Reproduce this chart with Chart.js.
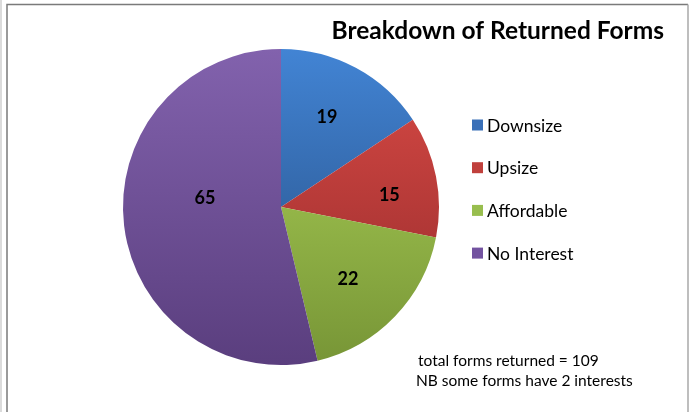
<!DOCTYPE html>
<html>
<head>
<meta charset="utf-8">
<script src="https://cdn.jsdelivr.net/npm/chart.js@4"></script>
<style>
  html, body { margin: 0; padding: 0; background: #fff; }
  #wrap { width: 695px; height: 412px; position: relative; }
</style>
</head>
<body>
<div id="wrap"><canvas id="pie" width="695" height="412"></canvas></div>
<script>
// data
const labels = ['Downsize', 'Upsize', 'Affordable', 'No Interest'];
const values = [19, 15, 22, 65];
const titleText = 'Breakdown of Returned Forms';
const notes = ['total forms returned = 109', 'NB some forms have 2 interests'];

// top / bottom colours of the office-style vertical gradient
const topColors = ['#4284d4', '#da4b46', '#b0d65a', '#8262ad'];
const bottomColors = ['#24497c', '#92292a', '#779536', '#5a3e7e'];
const legendColors = ['#3a70b8', '#c0403c', '#98be4e', '#7353a0'];

// where each value label sits: share of radius, and a small turn (degrees) off the slice middle
const labelDist = [0.64, 0.69, 0.623, 0.485];
const labelTurn = [-1.2, 4.9, 3.2, 13.4];

const FONT = 'Lato, "Open Sans", sans-serif';

function sliceFill(ctx) {
  const chart = ctx.chart;
  const area = chart.chartArea;
  if (!area) return topColors[ctx.dataIndex];
  const g = chart.ctx.createLinearGradient(0, area.top, 0, area.bottom);
  g.addColorStop(0, topColors[ctx.dataIndex]);
  g.addColorStop(1, bottomColors[ctx.dataIndex]);
  return g;
}

const framePlugin = {
  id: 'frame',
  beforeDraw(chart) {
    const c = chart.ctx;
    c.save();
    c.strokeStyle = '#cfcfcf';
    c.lineWidth = 1.5;
    c.beginPath();
    c.moveTo(1, 0); c.lineTo(1, 412);
    c.stroke();
    c.strokeStyle = '#7a7a7a';
    c.lineWidth = 1.5;
    c.beginPath();
    c.moveTo(7, 420); c.lineTo(7, 4.5); c.lineTo(688, 4.5);
    c.stroke();
    c.strokeStyle = '#a8a8a8';
    c.beginPath();
    c.moveTo(688, 4.5); c.lineTo(688, 420);
    c.stroke();
    c.restore();
  }
};

const textPlugin = {
  id: 'texts',
  afterDatasetsDraw(chart) {
    const c = chart.ctx;
    c.save();
    // value labels
    const meta = chart.getDatasetMeta(0);
    c.fillStyle = '#000';
    c.font = 'bold 18px ' + FONT;
    c.textAlign = 'center';
    c.textBaseline = 'middle';
    meta.data.forEach((arc, i) => {
      const p = arc.getProps(['x', 'y', 'startAngle', 'endAngle', 'outerRadius']);
      const mid = (p.startAngle + p.endAngle) / 2 + labelTurn[i] * Math.PI / 180;
      const d = p.outerRadius * labelDist[i];
      c.fillText(String(values[i]), p.x + Math.cos(mid) * d, p.y + Math.sin(mid) * d);
    });

    // title
    c.font = 'bold 24.5px ' + FONT;
    c.textAlign = 'right';
    c.textBaseline = 'alphabetic';
    c.fillText(titleText, 664, 39);

    // legend
    c.font = '17.5px ' + FONT;
    c.textAlign = 'left';
    c.textBaseline = 'middle';
    labels.forEach((lab, i) => {
      const y = 125 + i * 42.7;
      c.fillStyle = legendColors[i];
      c.fillRect(472, y - 5.5, 11, 11);
      c.fillStyle = '#000';
      c.fillText(lab, 487, y + 1);
    });

    // notes
    c.font = '15.5px ' + FONT;
    c.fillText(notes[0], 418, 361);
    c.fillText(notes[1], 416, 381);
    c.restore();
  }
};

new Chart(document.getElementById('pie'), {
  type: 'pie',
  data: {
    labels: labels,
    datasets: [{
      data: values,
      backgroundColor: sliceFill,
      borderWidth: 0,
    }],
  },
  options: {
    responsive: false,
    animation: false,
    layout: { padding: { left: 123, right: 256, top: 49, bottom: 47 } },
    plugins: {
      legend: { display: false },
      title: { display: false },
      tooltip: { enabled: false },
    },
  },
  plugins: [framePlugin, textPlugin],
});
</script>
</body>
</html>
